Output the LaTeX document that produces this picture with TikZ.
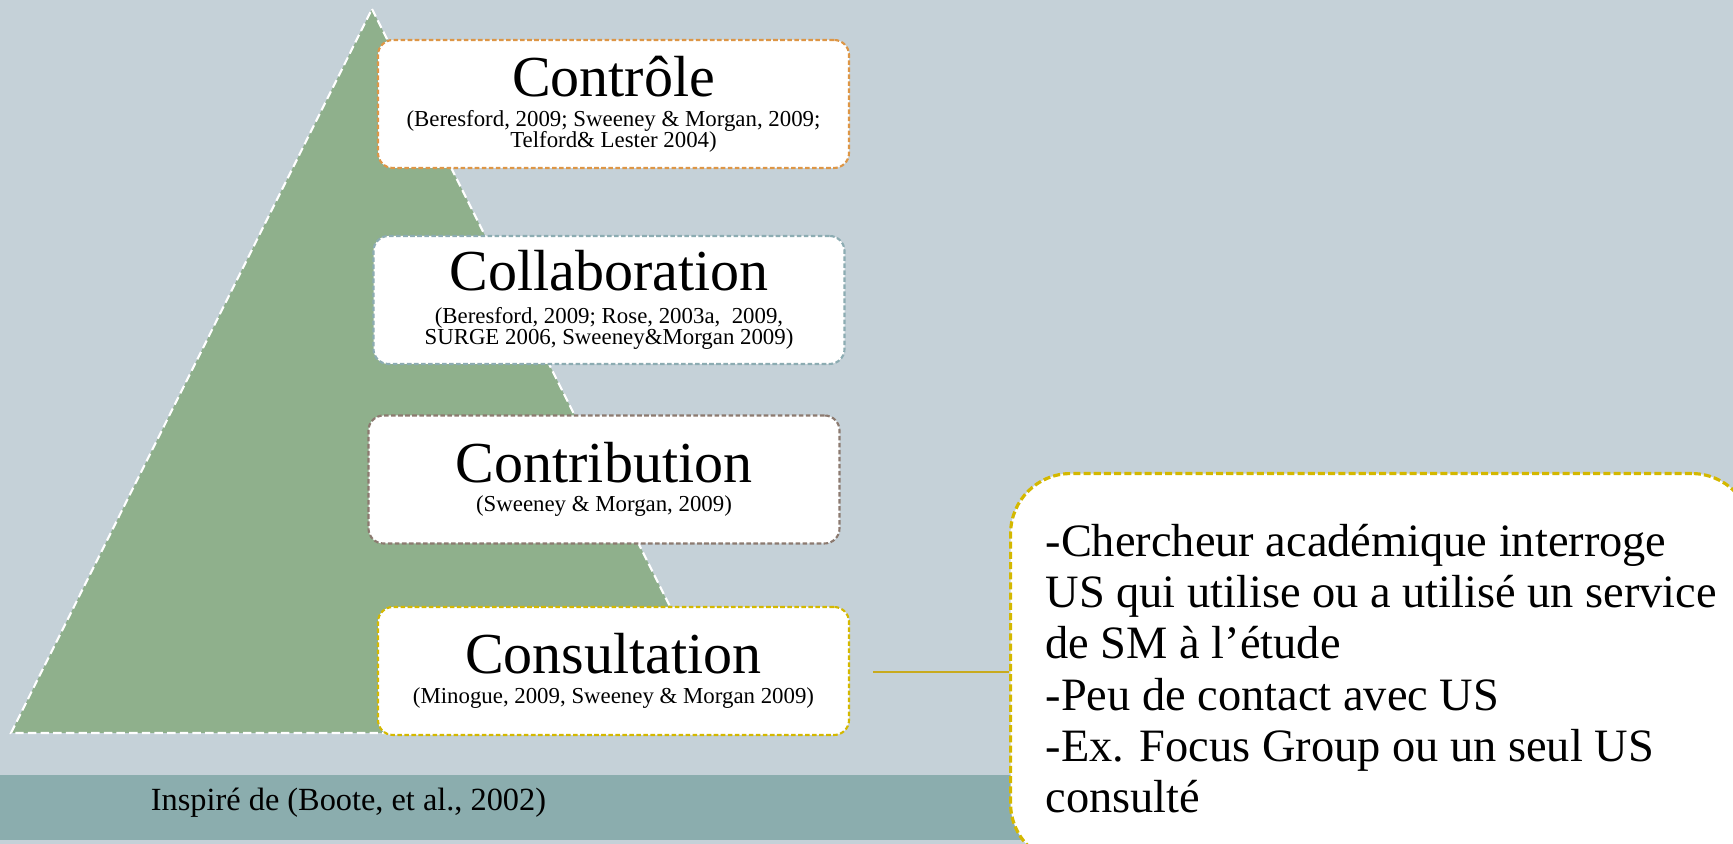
\documentclass[tikz,border=0pt]{standalone}
\usepackage{fontspec}
\setmainfont{Liberation Serif}
\usetikzlibrary{positioning}
\definecolor{fond}{RGB}{197,209,216}
\definecolor{bande}{RGB}{139,173,174}
\definecolor{pyramide}{RGB}{143,176,140}
\definecolor{orangeniv}{RGB}{221,150,70}
\definecolor{bleuniv}{RGB}{140,172,178}
\definecolor{brunniv}{RGB}{140,122,112}
\definecolor{jauneniv}{RGB}{212,184,0}
\definecolor{lienniv}{RGB}{200,170,30}
\newcommand{\titreniv}[1]{{\fontsize{16.5}{18}\selectfont #1}}
\newcommand{\refniv}{\fontsize{6.5}{6.0}\selectfont\lineskiplimit=-10pt\relax}
\tikzset{niveau/.style={draw,fill=white,rounded corners=0.15cm,line width=0.6pt,
    dash pattern=on 1.3pt off 0.7pt,minimum width=4.71cm,minimum height=1.28cm,
    align=center,inner sep=0pt,font=\refniv}}
\tikzset{detail/.style={draw=jauneniv,fill=white,rounded corners=0.6cm,line width=0.9pt,
    dash pattern=on 2pt off 0.9pt,minimum width=7.34cm,minimum height=3.9cm,
    align=left,inner xsep=0.35cm,font=\fontsize{13.2}{14.6}\selectfont}}

\begin{document}
\begin{tikzpicture}
  \useasboundingbox (0,0) rectangle (17.33,8.44);
  \clip (0,0) rectangle (17.33,8.44);
  \fill[fond] (0,0) rectangle (17.33,8.44);
  \fill[bande] (0,0.04) rectangle (17.33,0.69);
  % pyramide
  \draw[white,fill=pyramide,line width=0.6pt,dash pattern=on 2.4pt off 1.2pt]
  (3.72,8.35) -- (7.33,1.11) -- (0.11,1.11) -- cycle;
  \node[niveau,draw=orangeniv] (controle) at (6.135,7.40)
  {\titreniv{Contrôle}\\[2.6pt](Beresford, 2009; Sweeney \& Morgan, 2009;\\Telford\& Lester 2004)};
  \node[niveau,draw=bleuniv] (collab) at (6.09,5.44)
  {\titreniv{Collaboration}\\[3.2pt](Beresford, 2009; Rose, 2003a,\ \ 2009,\\SURGE 2006, Sweeney\&Morgan 2009)};
  \node[niveau,draw=brunniv] (contrib) at (6.04,3.645)
  {\titreniv{Contribution}\\[2.4pt](Sweeney \& Morgan, 2009)};
  \node[niveau,draw=jauneniv] (consult) at (6.135,1.73)
  {\titreniv{Consultation}\\[2.4pt](Minogue, 2009, Sweeney \& Morgan 2009)};
  \node[font=\fontsize{9.2}{11}\selectfont] (source) at (3.485,0.41)
  {Inspiré de (Boote, et al., 2002)};
  % detail de la consultation
  \node[detail,anchor=north west] (exemple) at (10.09,3.72)
  {-Chercheur académique interroge\\US qui utilise ou a utilisé un service\\de SM à l’étude\\-Peu de contact avec US\\-Ex. Focus Group ou un seul US\\consulté};
  \coordinate (lien) at (8.73,1.72);
  \draw[lienniv,line width=0.7pt] (lien) -- (lien -| exemple.west);
\end{tikzpicture}
\end{document}
